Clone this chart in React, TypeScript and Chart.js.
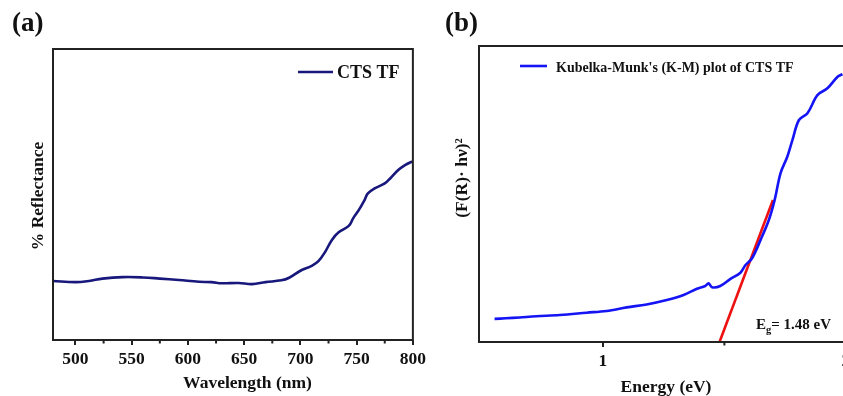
import React, { useEffect, useRef } from "react";
import { Chart, registerables } from "chart.js";

Chart.register(...registerables);

const SERIF = "'Liberation Serif', 'Times New Roman', serif";
const FRAME = "#222222";
const INK = "#111111";

// (a) diffuse reflectance spectrum of the CTS thin film
const wavelengthNm = [480, 500, 512, 524, 542, 560, 575, 592, 610, 621, 630, 645, 657, 669, 683, 690, 700, 710, 716, 722, 728, 734, 743, 747, 752, 757, 760, 766, 775, 780, 787, 793, 798, 800];
const reflectancePct = [20.3, 19.9, 20.3, 21.1, 21.6, 21.5, 21.1, 20.6, 20.0, 19.9, 19.5, 19.6, 19.2, 19.9, 20.5, 21.4, 23.8, 25.5, 27.1, 30.3, 34.4, 37.0, 39.2, 41.9, 44.7, 48.1, 50.4, 52.1, 53.8, 55.6, 58.4, 60.1, 61.1, 61.3];
const wavelengthTicks = [500, 550, 600, 650, 700, 750, 800];
const wavelengthMinorTicks = [525, 575, 625, 675, 725, 775];

// (b) Kubelka-Munk transform, (F(R)·hν)^2 against photon energy
const energyEv = [0.554, 0.6, 0.657, 0.726, 0.822, 0.933, 1.015, 1.098, 1.18, 1.263, 1.332, 1.387, 1.421, 1.435, 1.449, 1.483, 1.525, 1.566, 1.587, 1.614, 1.649, 1.683, 1.707, 1.731, 1.759, 1.78, 1.807, 1.842, 1.883, 1.924, 1.966, 1.986];
const kmSignal = [7.8, 8.0, 8.3, 8.7, 9.1, 9.9, 10.5, 11.7, 12.7, 14.2, 15.9, 18.0, 18.9, 19.8, 18.5, 18.9, 21.3, 23.4, 26.0, 28.3, 34.5, 41.2, 48.0, 57.0, 62.6, 68.2, 75.0, 77.3, 83.4, 85.7, 89.6, 90.5];
const energyTicks = [1, 2];
const energyMinorTicks = [1.5];

// Linear fit of the absorption edge, extrapolated to zero
const bandGapEv = 1.48;
const tangentEnergyEv = [bandGapEv, 1.7];
const tangentSignal = [0, 48];

const font = (size: number) => `bold ${size}px ${SERIF}`;

function toPoints(xs: number[], ys: number[]) {
  return xs.map((x, i) => ({ x, y: ys[i] }));
}

function framePlugin(id: string, minor: number[], decorate: (ctx: CanvasRenderingContext2D) => void) {
  return {
    id,
    afterDraw(chart: any) {
      const { ctx, chartArea: a } = chart;
      const xs = chart.scales.x;
      ctx.save();
      ctx.strokeStyle = FRAME;
      ctx.lineWidth = 2;
      ctx.strokeRect(a.left, a.top, a.right - a.left, a.bottom - a.top);
      ctx.beginPath();
      for (const v of minor) {
        const px = xs.getPixelForValue(v);
        ctx.moveTo(px, a.bottom);
        ctx.lineTo(px, a.bottom + 3.5);
      }
      ctx.stroke();
      ctx.fillStyle = INK;
      decorate(ctx);
      ctx.restore();
    },
  };
}

function rotatedText(ctx: CanvasRenderingContext2D, text: string, x: number, y: number) {
  ctx.save();
  ctx.translate(x, y);
  ctx.rotate(-Math.PI / 2);
  ctx.textAlign = "center";
  ctx.textBaseline = "alphabetic";
  ctx.fillText(text, 0, 0);
  ctx.restore();
}

function xAxis(min: number, max: number, ticks: number[], height: number) {
  return {
    type: "linear",
    min,
    max,
    afterBuildTicks: (s: any) => {
      s.ticks = ticks.map((value) => ({ value }));
    },
    afterFit: (s: any) => {
      s.height = height;
    },
    ticks: {
      autoSkip: false,
      maxRotation: 0,
      padding: 4,
      color: INK,
      font: { family: SERIF, size: 17.5, weight: "bold" },
    },
    grid: {
      drawOnChartArea: false,
      drawTicks: true,
      tickLength: 5,
      color: FRAME,
      lineWidth: 2,
    },
    border: { display: false },
  };
}

function reflectanceConfig(): any {
  return {
    type: "line",
    data: {
      datasets: [
        {
          label: "CTS TF",
          data: toPoints(wavelengthNm, reflectancePct),
          borderColor: "#17177c",
          borderWidth: 2.6,
          pointRadius: 0,
          tension: 0.4,
        },
      ],
    },
    options: {
      responsive: false,
      animation: false,
      layout: { padding: { left: 53, top: 49, right: 16, bottom: 0 } },
      plugins: { legend: { display: false }, tooltip: { enabled: false } },
      scales: {
        x: xAxis(480, 800, wavelengthTicks, 56),
        y: { type: "linear", display: false, min: 0, max: 100 },
      },
    },
    plugins: [
      framePlugin("frameA", wavelengthMinorTicks, (ctx) => {
        ctx.textBaseline = "alphabetic";
        ctx.font = font(27);
        ctx.textAlign = "left";
        ctx.fillText("(a)", 12, 31);

        ctx.strokeStyle = "#17177c";
        ctx.lineWidth = 2.6;
        ctx.beginPath();
        ctx.moveTo(298, 72);
        ctx.lineTo(333, 72);
        ctx.stroke();
        ctx.font = font(18);
        ctx.fillText("CTS TF", 337, 78);

        ctx.font = font(17.5);
        ctx.textAlign = "center";
        ctx.fillText("Wavelength (nm)", 247.5, 388);
        rotatedText(ctx, "% Reflectance", 43, 196);
      }),
    ],
  };
}

function kubelkaConfig(): any {
  return {
    type: "line",
    data: {
      datasets: [
        {
          label: "Kubelka-Munk's (K-M) plot of CTS TF",
          data: toPoints(energyEv, kmSignal),
          borderColor: "#1414f5",
          borderWidth: 2.6,
          pointRadius: 0,
          tension: 0.35,
        },
        {
          label: "Tangent",
          data: toPoints(tangentEnergyEv, tangentSignal),
          borderColor: "#ee1111",
          borderWidth: 2.6,
          pointRadius: 0,
          tension: 0,
        },
      ],
    },
    options: {
      responsive: false,
      animation: false,
      layout: { padding: { left: 49, top: 46, right: 12, bottom: 0 } },
      plugins: { legend: { display: false }, tooltip: { enabled: false } },
      scales: {
        x: xAxis(0.49, 2.05, energyTicks, 54),
        y: { type: "linear", display: false, min: 0, max: 100 },
      },
    },
    plugins: [
      framePlugin("frameB", energyMinorTicks, (ctx) => {
        ctx.textBaseline = "alphabetic";
        ctx.font = font(27);
        ctx.textAlign = "left";
        ctx.fillText("(b)", 15, 31);

        ctx.strokeStyle = "#1414f5";
        ctx.lineWidth = 2.6;
        ctx.beginPath();
        ctx.moveTo(90, 66);
        ctx.lineTo(117, 66);
        ctx.stroke();
        ctx.font = font(14);
        ctx.fillText("Kubelka-Munk's (K-M) plot of CTS TF", 126, 71.5);

        // band gap annotation: E with subscript g
        let x = 326;
        ctx.font = font(15);
        ctx.fillText("E", x, 329);
        x += ctx.measureText("E").width;
        ctx.font = font(10.5);
        ctx.fillText("g", x, 333);
        x += ctx.measureText("g").width;
        ctx.font = font(15);
        ctx.fillText(`= ${bandGapEv.toFixed(2)} eV`, x, 329);

        ctx.font = font(17.5);
        ctx.textAlign = "center";
        ctx.fillText("Energy (eV)", 236, 392);
        rotatedText(ctx, "(F(R)· hν)²", 37, 178);
      }),
    ],
  };
}

export default function App() {
  const aRef = useRef<HTMLCanvasElement>(null);
  const bRef = useRef<HTMLCanvasElement>(null);

  useEffect(() => {
    const a = new Chart(aRef.current as HTMLCanvasElement, reflectanceConfig());
    const b = new Chart(bRef.current as HTMLCanvasElement, kubelkaConfig());
    return () => {
      a.destroy();
      b.destroy();
    };
  }, []);

  return (
    <div
      style={{
        position: "absolute",
        left: 0,
        top: 0,
        width: 843,
        height: 396,
        overflow: "hidden",
        background: "#ffffff",
      }}
    >
      <canvas ref={aRef} width={430} height={396} style={{ position: "absolute", left: 0, top: 0 }} />
      <canvas ref={bRef} width={440} height={396} style={{ position: "absolute", left: 430, top: 0 }} />
    </div>
  );
}
